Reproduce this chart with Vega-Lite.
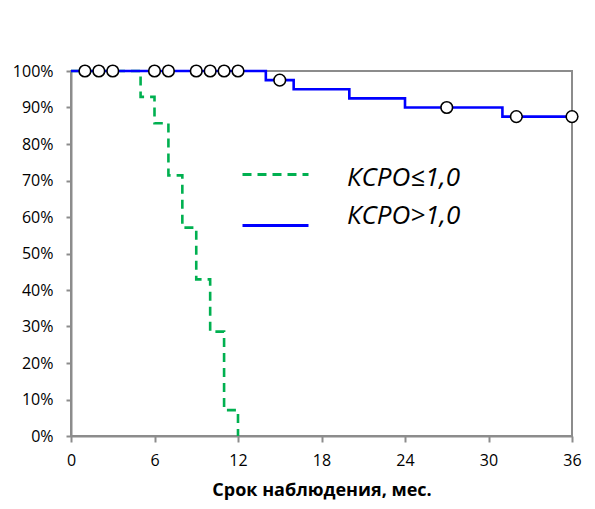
{
  "$schema": "https://vega.github.io/schema/vega-lite/v6.json",
  "width": 501,
  "height": 365,
  "autosize": {"type": "none"},
  "padding": {"left": 71, "top": 71, "right": 23, "bottom": 73},
  "background": "white",
  "config": {
    "view": {"stroke": "#8c8c8c", "strokeWidth": 2},
    "axis": {
      "domainColor": "#8c8c8c", "domainWidth": 2,
      "tickColor": "#8c8c8c", "tickWidth": 2,
      "grid": false,
      "labelFont": "Open Sans", "labelFontSize": 16, "labelColor": "#000000",
      "labelFlush": false,
      "titleFont": "Open Sans", "titleColor": "#000000"
    }
  },
  "datasets": {
    "km": [
      {"time": 0, "surv": 1.0, "group": "КСРО≤1,0"},
      {"time": 5, "surv": 0.929, "group": "КСРО≤1,0"},
      {"time": 6, "surv": 0.857, "group": "КСРО≤1,0"},
      {"time": 7, "surv": 0.714, "group": "КСРО≤1,0"},
      {"time": 8, "surv": 0.571, "group": "КСРО≤1,0"},
      {"time": 9, "surv": 0.429, "group": "КСРО≤1,0"},
      {"time": 10, "surv": 0.286, "group": "КСРО≤1,0"},
      {"time": 11, "surv": 0.071, "group": "КСРО≤1,0"},
      {"time": 12, "surv": 0.0, "group": "КСРО≤1,0"},
      {"time": 0, "surv": 1.0, "group": "КСРО>1,0"},
      {"time": 14, "surv": 0.975, "group": "КСРО>1,0"},
      {"time": 16, "surv": 0.95, "group": "КСРО>1,0"},
      {"time": 20, "surv": 0.925, "group": "КСРО>1,0"},
      {"time": 24, "surv": 0.9, "group": "КСРО>1,0"},
      {"time": 31, "surv": 0.875, "group": "КСРО>1,0"},
      {"time": 36, "surv": 0.875, "group": "КСРО>1,0"}
    ],
    "cens": [
      {"time": 1, "surv": 1.0},
      {"time": 2, "surv": 1.0},
      {"time": 3, "surv": 1.0},
      {"time": 6, "surv": 1.0},
      {"time": 7, "surv": 1.0},
      {"time": 9, "surv": 1.0},
      {"time": 10, "surv": 1.0},
      {"time": 11, "surv": 1.0},
      {"time": 12, "surv": 1.0},
      {"time": 15, "surv": 0.975},
      {"time": 27, "surv": 0.9},
      {"time": 32, "surv": 0.875},
      {"time": 36, "surv": 0.875}
    ]
  },
  "encoding": {
    "x": {
      "field": "time", "type": "quantitative",
      "scale": {"domain": [0, 36], "nice": false},
      "axis": {
        "values": [0, 6, 12, 18, 24, 30, 36],
        "tickSize": 6, "labelPadding": 10,
        "title": "Срок наблюдения, мес.",
        "titleFontSize": 18, "titleFontWeight": "bold", "titlePadding": 13
      }
    },
    "y": {
      "field": "surv", "type": "quantitative",
      "scale": {"domain": [0, 1], "nice": false},
      "axis": {
        "tickCount": 10,
        "format": ".0%", "tickSize": 5, "labelPadding": 13, "title": null,
        "labelOverlap": false, "labelFontSize": 16
      }
    }
  },
  "layer": [
    {
      "data": {"name": "km"},
      "mark": {"type": "line", "interpolate": "step-after", "strokeWidth": 2.6, "clip": false},
      "encoding": {
        "color": {
          "field": "group", "type": "nominal",
          "scale": {"domain": ["КСРО≤1,0", "КСРО>1,0"], "range": ["#00b050", "#0000ff"]},
          "legend": {
            "title": null,
            "orient": "none",
            "legendX": 170,
            "legendY": 69,
            "padding": 0,
            "symbolType": "stroke",
            "symbolSize": 4356,
            "symbolStrokeWidth": 3,
            "rowPadding": -24,
            "labelFont": "Open Sans",
            "labelFontStyle": "italic",
            "labelFontSize": 26,
            "labelColor": "#000000",
            "labelOffset": 37,
            "labelLimit": 300,
            "encode": {
              "labels": {"update": {"dy": {"signal": "datum.index === 0 ? 3 : -10"}}}
            }
          }
        },
        "strokeDash": {
          "field": "group", "type": "nominal",
          "scale": {"domain": ["КСРО≤1,0", "КСРО>1,0"], "range": [[9, 6], [1, 0]]},
          "legend": null
        }
      }
    },
    {
      "data": {"name": "cens"},
      "mark": {"type": "point", "shape": "circle", "filled": true, "fill": "white", "stroke": "black", "strokeWidth": 1.6, "size": 135, "opacity": 1, "clip": false}
    }
  ]
}
